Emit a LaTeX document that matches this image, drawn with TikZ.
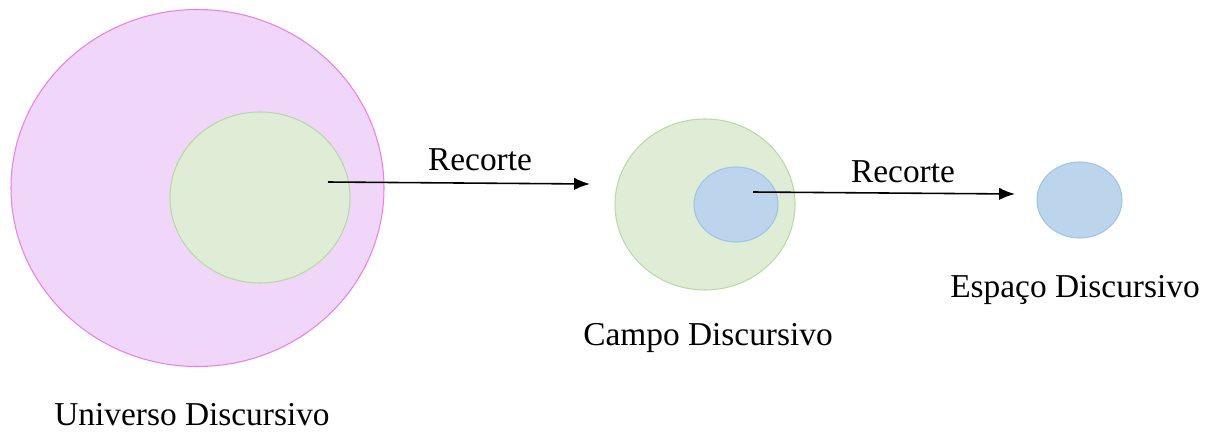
\documentclass[tikz,border=0pt]{standalone}
\usepackage{fontspec}
\setmainfont{Liberation Serif}
\usepackage{tikz}
\usetikzlibrary{
    arrows.meta,
    positioning,
    shapes.geometric
}

\definecolor{pinkfill}{RGB}{240,214,248}
\definecolor{pinkline}{RGB}{232,128,236}
\definecolor{greenfill}{RGB}{224,237,214}
\definecolor{greenline}{RGB}{186,216,166}
\definecolor{bluefill}{RGB}{189,213,236}
\definecolor{blueline}{RGB}{158,196,232}

\begin{document}
\begin{tikzpicture}[x=0.02cm,y=-0.02cm,
   blob/.style={ellipse,draw,line width=0.6pt,inner sep=0pt},
   univ/.style={blob,fill=pinkfill,draw=pinkline},
   campo/.style={blob,fill=greenfill,draw=greenline},
   espaco/.style={blob,fill=bluefill,draw=blueline},
   lbl/.style={font=\fontsize{19}{22}\selectfont,inner sep=0pt},
   cut/.style={-{Latex[length=9pt,width=7pt]},line width=0.9pt}]
  \useasboundingbox (0,0) rectangle (1218,436);
  % universe with the field inside
  \node[univ,minimum width=373*0.02cm,minimum height=357*0.02cm](u) at (197.5,188){};
  \node[campo,minimum width=180*0.02cm,minimum height=171*0.02cm](u1) at (260,197.5){};
  \node[lbl](ulbl) at (192,415){Universo Discursivo};
  % field with the space inside
  \node[campo,minimum width=180*0.02cm,minimum height=171*0.02cm](c) at (705,204.5){};
  \node[espaco,minimum width=84*0.02cm,minimum height=75*0.02cm](c1) at (736,204.5){};
  \node[lbl](clbl) at (708,338){Campo Discursivo};
  % space alone
  \node[espaco,minimum width=85*0.02cm,minimum height=76*0.02cm](e) at (1079.5,200){};
  \node[lbl](elbl) at (1075,290){Espaço Discursivo};
  % cuts
  \coordinate (a1) at (328,182); \coordinate (b1) at (590,184);
  \coordinate (a2) at (753,192); \coordinate (b2) at (1015,194);
  \draw[cut] (a1) -- (b1);
  \draw[cut] (a2) -- (b2);
  \node[lbl](r1) at (480,160){Recorte};
  \node[lbl](r2) at (903,172){Recorte};
\end{tikzpicture}
\end{document}
